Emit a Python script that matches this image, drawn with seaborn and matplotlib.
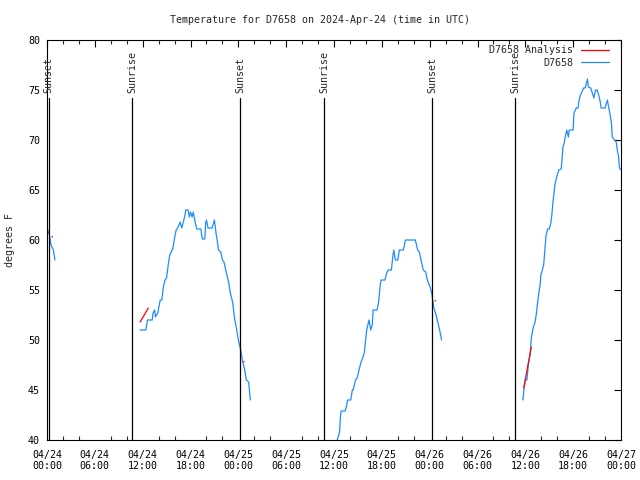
import pandas as pd
import matplotlib
matplotlib.use("Agg")
import matplotlib.pyplot as plt
import matplotlib.dates as mdates
import seaborn as sns

# --------------------------------------------
# Data (hours after 2024-04-24 00:00 UTC, degrees F)
# --------------------------------------------
base = pd.Timestamp("2024-04-24 00:00")

obs1_h = [0.0, 0.1, 0.3, 0.5, 0.8, 1.0]
obs1_t = [61.2, 61.0, 60.5, 59.5, 59.0, 58.0]

obs2_h = [11.67, 12.4, 12.6, 13.2, 13.3, 13.5, 13.6, 13.9, 14.2, 14.4, 14.6, 14.8,
          15.0, 15.2, 15.4, 15.7, 15.8, 16.0, 16.2, 16.4, 16.7, 16.9, 17.1, 17.25,
          17.4, 17.7, 17.85, 18.0, 18.2, 18.35, 18.6, 18.8, 19.3, 19.4, 19.5, 19.8,
          19.9, 20.0, 20.2, 20.7, 20.9, 21.0, 21.2, 21.4, 21.5, 21.8, 22.0, 22.2,
          22.5, 22.8, 23.0, 23.3, 23.5, 23.8, 24.0, 24.3, 24.5, 24.8, 25.0, 25.3, 25.5]
obs2_t = [51.0, 51.0, 52.0, 52.0, 52.7, 53.0, 52.3, 52.7, 54.0, 54.0, 55.3, 56.0,
          56.2, 57.5, 58.5, 59.0, 59.2, 60.2, 61.0, 61.2, 61.8, 61.2, 61.8, 62.3,
          63.0, 63.0, 62.3, 62.8, 62.3, 62.8, 61.7, 61.1, 61.1, 60.5, 60.1, 60.1,
          61.7, 62.0, 61.2, 61.2, 61.7, 62.0, 60.7, 59.7, 59.0, 58.8, 58.0, 57.8,
          56.7, 55.7, 54.7, 53.7, 52.3, 51.0, 50.0, 49.0, 48.0, 47.0, 46.0, 45.8, 44.0]

obs3_h = [36.4, 36.7, 36.8, 36.9, 37.4, 37.6, 37.7, 38.1, 38.3, 38.4, 38.7, 38.9,
          39.2, 39.4, 39.5, 39.8, 39.9, 40.1, 40.3, 40.4, 40.6, 40.8, 40.9, 41.4,
          41.6, 41.8, 41.9, 42.4, 42.6, 42.8, 43.2, 43.4, 43.5, 43.7, 44.0, 44.2,
          44.7, 44.96, 46.2, 46.5, 46.7, 47.0, 47.2, 47.5, 47.7, 48.1, 48.3, 48.5,
          48.8, 49.05, 49.3, 49.5]
obs3_t = [40.0, 40.8, 42.3, 42.9, 42.9, 43.5, 44.0, 44.0, 45.0, 45.0, 46.0, 46.2,
          47.2, 47.8, 48.0, 48.7, 49.5, 51.0, 51.7, 52.0, 51.0, 51.5, 53.0, 53.0,
          53.8, 55.5, 56.0, 56.0, 56.7, 57.0, 57.0, 58.5, 59.0, 58.0, 58.0, 59.0,
          59.0, 60.0, 60.0, 59.0, 58.8, 57.7, 57.0, 56.8, 56.0, 55.2, 54.5, 53.3,
          52.5, 51.7, 50.8, 50.0]

obs4_h = [59.7, 59.85, 60.0, 60.2, 60.4, 60.6, 60.75, 61.0, 61.2, 61.4, 61.5, 61.7,
          61.85, 61.95, 62.1, 62.3, 62.4, 62.6, 62.8, 63.0, 63.2, 63.35, 63.45, 63.6,
          63.7, 63.9, 64.0, 64.2, 64.5, 64.6, 64.7, 64.9, 65.0, 65.2, 65.4, 65.5,
          65.7, 66.0, 66.1, 66.4, 66.6, 66.7, 66.9, 67.1, 67.3, 67.5, 67.8, 67.9,
          68.2, 68.4, 68.6, 68.8, 69.0, 69.2, 69.4, 69.5, 70.0, 70.3, 70.4, 70.6,
          70.8, 70.9, 71.1, 71.4, 71.5, 71.7, 71.8, 72.0]
obs4_t = [44.0, 45.2, 46.0, 46.0, 47.7, 48.5, 50.2, 51.3, 51.7, 52.7, 53.5, 54.7,
          55.5, 56.5, 56.9, 57.5, 58.5, 60.5, 61.1, 61.1, 61.7, 62.7, 63.7, 64.7,
          65.5, 66.2, 66.5, 67.0, 67.1, 68.0, 69.2, 69.8, 70.3, 71.0, 70.3, 71.0,
          71.0, 71.0, 72.7, 73.2, 73.2, 73.8, 74.5, 74.8, 75.2, 75.2, 76.1, 75.3,
          75.2, 74.7, 74.2, 75.0, 75.0, 74.5, 73.8, 73.2, 73.2, 74.0, 73.5, 72.7,
          71.7, 70.3, 70.1, 69.8, 69.2, 68.3, 67.2, 67.0]

ana1_h = [0.64, 0.68]
ana1_t = [60.3, 60.35]
ana2_h = [11.67, 12.2, 12.7]
ana2_t = [51.8, 52.5, 53.2]
ana3_h = [24.68, 24.72]
ana3_t = [47.8, 47.85]
ana4_h = [48.68, 48.72]
ana4_t = [53.9, 53.95]
ana5_h = [59.8, 60.1, 60.4, 60.75]
ana5_t = [45.2, 46.5, 47.8, 49.3]

sun_labels = ["Sunset", "Sunrise", "Sunset", "Sunrise", "Sunset", "Sunrise"]
sun_hours = [0.22, 10.67, 24.2, 34.75, 48.3, 58.7]

blue = "#1e8cff"
red = "#ff0000"

# --------------------------------------------
# Style
# --------------------------------------------
sns.set_theme(style="white")
plt.rcParams['font.family'] = ['DejaVu Sans Mono']
plt.rcParams['font.size'] = 7.2
plt.rcParams['axes.linewidth'] = 0.8
plt.rcParams['xtick.direction'] = 'in'
plt.rcParams['ytick.direction'] = 'in'


def to_time(hours):
    return [base + pd.Timedelta(hours=h) for h in hours]


fig = plt.figure(figsize=(6.4, 4.8), dpi=100)
ax = fig.add_axes([47 / 640, 40 / 480, 574 / 640, 400 / 480])

# observation segments
for hh, tt in [(obs1_h, obs1_t), (obs2_h, obs2_t), (obs3_h, obs3_t), (obs4_h, obs4_t)]:
    seg = pd.DataFrame({"time": to_time(hh), "temp": tt})
    sns.lineplot(data=seg, x="time", y="temp", ax=ax, color=blue, linewidth=0.9,
                 estimator=None, sort=False)

# analysis segments
for hh, tt in [(ana1_h, ana1_t), (ana2_h, ana2_t), (ana3_h, ana3_t),
               (ana4_h, ana4_t), (ana5_h, ana5_t)]:
    seg = pd.DataFrame({"time": to_time(hh), "temp": tt})
    sns.lineplot(data=seg, x="time", y="temp", ax=ax, color=red, linewidth=0.9,
                 estimator=None, sort=False)

# sunrise / sunset markers
for lab, t in zip(sun_labels, to_time(sun_hours)):
    ax.plot([t, t], [40, 74.2], color="black", linewidth=0.9)
    ax.text(t, 74.7, lab, rotation=90, ha="center", va="bottom", fontsize=7.2)

ax.set_xlim(base, base + pd.Timedelta(hours=72))
ax.set_ylim(40, 80)
ax.set_yticks(range(40, 81, 5))
ax.xaxis.set_major_locator(mdates.HourLocator(byhour=range(0, 24, 6)))
ax.xaxis.set_minor_locator(mdates.HourLocator(interval=2))
ax.xaxis.set_major_formatter(mdates.DateFormatter("%m/%d\n%H:%M"))
ax.tick_params(axis="both", which="major", length=5, width=0.8, top=True, right=True,
               labelsize=7.2, colors="black")
ax.tick_params(axis="x", which="minor", length=3, width=0.8, top=True, bottom=True)
ax.tick_params(axis="x", which="major", pad=7)
ax.tick_params(axis="y", which="major", pad=5)
ax.set_xlabel("")
ax.set_ylabel("")
for sp in ax.spines.values():
    sp.set_color("black")

# legend (gnuplot style: text then sample)
h1, = ax.plot([], [], color=red, linewidth=0.9, label="D7658 Analysis")
h2, = ax.plot([], [], color=blue, linewidth=0.9, label="D7658")
ax.legend(handles=[h1, h2], loc="upper right", frameon=False, markerfirst=False,
          bbox_to_anchor=(1 - 5 / 574, 1 + 2 / 400),
          handlelength=2.8, handletextpad=0.8, labelspacing=0.25, borderaxespad=0.3,
          fontsize=7.2)

fig.text(0.5, 1 - 20 / 480, "Temperature for D7658 on 2024-Apr-24 (time in UTC)",
         ha="center", va="center", fontsize=7.2)
fig.text(10 / 640, 240 / 480, "degrees F", rotation=90, ha="center", va="center",
         fontsize=7.2)

plt.savefig("out.png", dpi=100)
plt.close()
